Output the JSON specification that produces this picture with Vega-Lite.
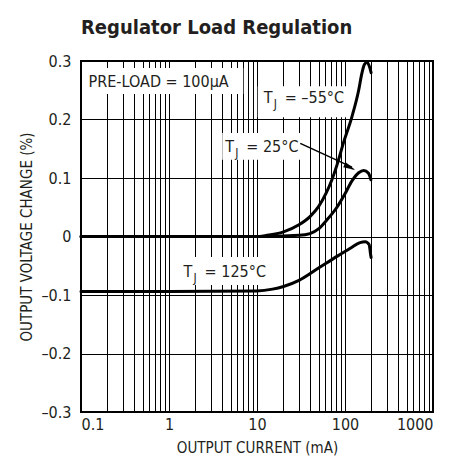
{
  "$schema": "https://vega.github.io/schema/vega-lite/v6.json",
  "width": 352,
  "height": 351,
  "autosize": "none",
  "padding": {"left": 81, "top": 61, "right": 20, "bottom": 53},
  "background": "white",
  "config": {
    "font": "DejaVu Sans Condensed",
    "view": {"stroke": "black", "strokeWidth": 2},
    "axis": {
      "grid": true,
      "gridColor": "black",
      "gridOpacity": 1,
      "gridWidth": 1,
      "ticks": false,
      "domain": false,
      "labelFont": "DejaVu Sans Condensed",
      "labelFontSize": 16,
      "labelColor": "#231f20",
      "titleFont": "DejaVu Sans Condensed",
      "titleFontSize": 15,
      "titleFontWeight": "normal",
      "titleColor": "#231f20",
      "labelOverlap": false
    }
  },
  "title": {
    "text": "Regulator Load Regulation",
    "anchor": "start",
    "frame": "group",
    "font": "DejaVu Sans Condensed",
    "fontSize": 20,
    "fontWeight": "bold",
    "color": "#231f20",
    "offset": 15
  },
  "layer": [
    {
      "data": {"values": [
        {"x": 0.106, "x2": 6.98, "y": 0.2436, "y2": 0.288},
        {"x": 10.2, "x2": 106, "y": 0.204, "y2": 0.257},
        {"x": 4.03, "x2": 35.4, "y": 0.131, "y2": 0.177},
        {"x": 1.24, "x2": 14.2, "y": -0.083, "y2": -0.035}
      ]},
      "mark": {"type": "rect", "fill": "white"},
      "encoding": {
        "x": {"field": "x", "type": "quantitative",
          "scale": {"type": "log", "domain": [0.1, 1000], "nice": false},
          "axis": {
            "title": "OUTPUT CURRENT (mA)",
            "values": [0.1,0.2,0.3,0.4,0.5,0.6,0.7,0.8,0.9,1,2,3,4,5,6,7,8,9,10,20,30,40,50,60,70,80,90,100,200,300,400,500,600,700,800,900,1000],
            "format": "~g",
            "labelExpr": "indexof([0.1,1,10,100,1000], datum.value) >= 0 ? datum.label : ''",
            "labelPadding": 4,
            "titlePadding": 8
          }},
        "x2": {"field": "x2"},
        "y": {"field": "y", "type": "quantitative",
          "scale": {"domain": [-0.3, 0.3], "nice": false, "zero": false},
          "axis": {
            "title": "OUTPUT VOLTAGE CHANGE (%)",
            "values": [-0.3,-0.2,-0.1,0,0.1,0.2,0.3],
            "labelExpr": "datum.value < -0.001 ? '\u2013' + format(-datum.value, '.1f') : (datum.value > 0.001 ? format(datum.value, '.1f') : '0')",
            "labelPadding": 10,
            "titlePadding": 6
          }},
        "y2": {"field": "y2"}
      }
    },
    {
      "data": {"values": [
        {"series": "-55", "x": 0.1, "y": 0},
        {"series": "-55", "x": 1, "y": 0},
        {"series": "-55", "x": 10, "y": 0},
        {"series": "-55", "x": 13, "y": 0.002},
        {"series": "-55", "x": 20, "y": 0.008},
        {"series": "-55", "x": 30, "y": 0.02},
        {"series": "-55", "x": 40, "y": 0.034},
        {"series": "-55", "x": 50, "y": 0.051},
        {"series": "-55", "x": 61, "y": 0.074},
        {"series": "-55", "x": 71, "y": 0.097},
        {"series": "-55", "x": 81, "y": 0.122},
        {"series": "-55", "x": 96, "y": 0.16},
        {"series": "-55", "x": 120, "y": 0.205},
        {"series": "-55", "x": 143, "y": 0.25},
        {"series": "-55", "x": 155, "y": 0.278},
        {"series": "-55", "x": 166, "y": 0.294},
        {"series": "-55", "x": 178, "y": 0.298},
        {"series": "-55", "x": 190, "y": 0.29},
        {"series": "-55", "x": 198, "y": 0.28},
        {"series": "25", "x": 0.1, "y": 0},
        {"series": "25", "x": 1, "y": 0},
        {"series": "25", "x": 10, "y": 0},
        {"series": "25", "x": 30, "y": 0.002},
        {"series": "25", "x": 40, "y": 0.005},
        {"series": "25", "x": 50, "y": 0.013},
        {"series": "25", "x": 62, "y": 0.028},
        {"series": "25", "x": 81, "y": 0.05},
        {"series": "25", "x": 100, "y": 0.073},
        {"series": "25", "x": 120, "y": 0.095},
        {"series": "25", "x": 143, "y": 0.109},
        {"series": "25", "x": 163, "y": 0.113},
        {"series": "25", "x": 185, "y": 0.108},
        {"series": "25", "x": 197, "y": 0.097},
        {"series": "125", "x": 0.1, "y": -0.094},
        {"series": "125", "x": 1, "y": -0.094},
        {"series": "125", "x": 10, "y": -0.093},
        {"series": "125", "x": 15, "y": -0.09},
        {"series": "125", "x": 20, "y": -0.0855},
        {"series": "125", "x": 30, "y": -0.075},
        {"series": "125", "x": 50, "y": -0.054},
        {"series": "125", "x": 81, "y": -0.034},
        {"series": "125", "x": 115, "y": -0.02},
        {"series": "125", "x": 148, "y": -0.0105},
        {"series": "125", "x": 170, "y": -0.009},
        {"series": "125", "x": 188, "y": -0.014},
        {"series": "125", "x": 195, "y": -0.03},
        {"series": "125", "x": 198, "y": -0.036}
      ]},
      "mark": {"type": "line", "color": "black", "strokeWidth": 3, "interpolate": "monotone", "strokeCap": "round"},
      "encoding": {
        "x": {"field": "x", "type": "quantitative"},
        "y": {"field": "y", "type": "quantitative"},
        "detail": {"field": "series"}
      }
    },
    {
      "data": {"values": [{"x": 31.0, "y": 0.1593, "x2": 120, "y2": 0.1185}]},
      "mark": {"type": "rule", "color": "black", "strokeWidth": 1.5},
      "encoding": {
        "x": {"field": "x", "type": "quantitative"},
        "y": {"field": "y", "type": "quantitative"},
        "x2": {"field": "x2"},
        "y2": {"field": "y2"}
      }
    },
    {
      "data": {"values": [{"x": 113.7, "y": 0.1181}]},
      "mark": {"type": "point", "shape": "M1,0L-1,-0.45L-1,0.45Z", "filled": true, "color": "black", "opacity": 1, "size": 150, "angle": 26},
      "encoding": {
        "x": {"field": "x", "type": "quantitative"},
        "y": {"field": "y", "type": "quantitative"}
      }
    },
    {
      "data": {"values": [
        {"t": "PRE-LOAD = 100\u03bcA", "sub": "", "rest": "", "x": 0.122, "y": 0.255},
        {"t": "T", "sub": "J", "rest": "= \u201355\u00b0C", "x": 11.9, "y": 0.2274},
        {"t": "T", "sub": "J", "rest": "= 25\u00b0C", "x": 4.36, "y": 0.145},
        {"t": "T", "sub": "J", "rest": "= 125\u00b0C", "x": 1.466, "y": -0.0697}
      ]},
      "encoding": {
        "x": {"field": "x", "type": "quantitative"},
        "y": {"field": "y", "type": "quantitative"}
      },
      "layer": [
        {
          "mark": {"type": "text", "align": "left", "baseline": "alphabetic", "fontSize": 16, "color": "#231f20"},
          "encoding": {"text": {"field": "t"}}
        },
        {
          "mark": {"type": "text", "align": "left", "baseline": "alphabetic", "fontSize": 12, "dx": 10, "dy": 5, "color": "#231f20"},
          "encoding": {"text": {"field": "sub"}}
        },
        {
          "mark": {"type": "text", "align": "left", "baseline": "alphabetic", "fontSize": 16, "dx": 21, "color": "#231f20"},
          "encoding": {"text": {"field": "rest"}}
        }
      ]
    }
  ]
}
